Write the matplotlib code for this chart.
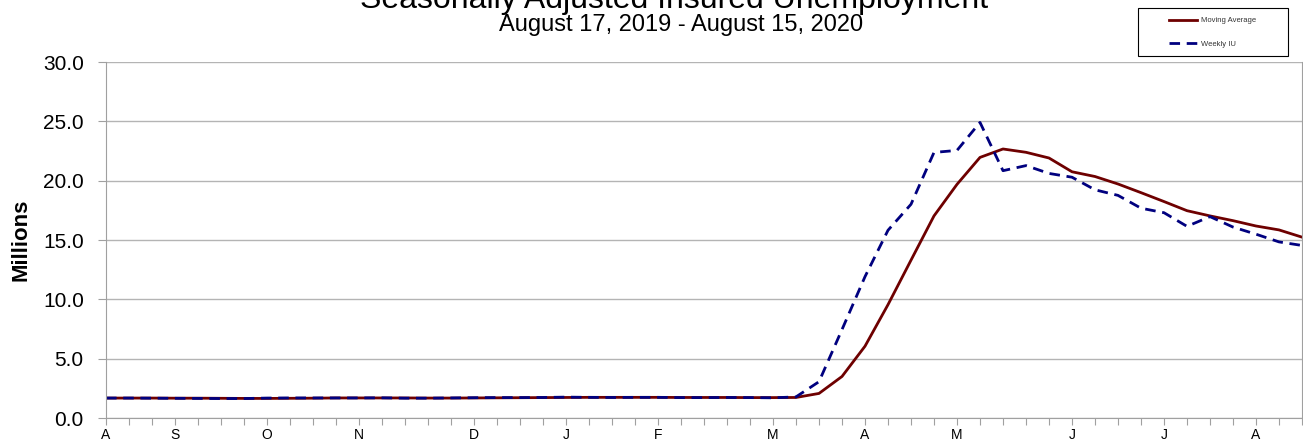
import matplotlib.pyplot as plt
from matplotlib.patches import Rectangle

plt.rcParams['font.family'] = ['Liberation Sans', 'DejaVu Sans']

# weekly values, Aug 17 2019 .. Aug 15 2020 (millions)
weekly_iu = [
    1.68, 1.68, 1.67, 1.66, 1.65, 1.64, 1.64, 1.68, 1.69, 1.69,
    1.69, 1.69, 1.70, 1.67, 1.67, 1.69, 1.71, 1.72, 1.72, 1.73,
    1.76, 1.74, 1.73, 1.74, 1.74, 1.72, 1.72, 1.73, 1.72, 1.70,
    1.78, 3.06, 7.45, 11.91, 15.82, 18.01, 22.38, 22.55, 24.91, 20.84,
    21.27, 20.61, 20.29, 19.23, 18.76, 17.68, 17.30, 16.15, 16.97, 16.09,
    15.49, 14.84, 14.54,
]
moving_avg = [
    1.68, 1.68, 1.68, 1.67, 1.67, 1.66, 1.65, 1.65, 1.66, 1.67,
    1.69, 1.69, 1.69, 1.69, 1.68, 1.68, 1.69, 1.70, 1.71, 1.72,
    1.73, 1.74, 1.74, 1.74, 1.74, 1.73, 1.73, 1.73, 1.72, 1.72,
    1.73, 2.07, 3.50, 6.05, 9.55, 13.30, 17.03, 19.69, 21.96, 22.67,
    22.39, 21.91, 20.75, 20.35, 19.72, 18.99, 18.24, 17.47, 17.03, 16.63,
    16.18, 15.85, 15.24,
]
month_pos = [0, 3, 7, 11, 16, 20, 24, 29, 33, 37, 42, 46, 50]
month_labels = ['A', 'S', 'O', 'N', 'D', 'J', 'F', 'M', 'A', 'M', 'J', 'J', 'A']

W, H = 1303, 447
fig = plt.figure(figsize=(W / 100, H / 100), dpi=100)
ax = fig.add_axes([106 / W, 1 - 418 / H, 1196 / W, 356 / H])

weeks = list(range(len(weekly_iu)))
ax.plot(weeks, moving_avg, color='#6e0000', lw=2.0, label='Moving Average')
ax.plot(weeks, weekly_iu, color='#00007f', lw=2.0, dashes=(3.8, 2.4),
        label='Weekly IU')

ax.set_xlim(0, len(weeks) - 1)
ax.set_ylim(0, 30)
ax.set_yticks([0, 5, 10, 15, 20, 25, 30])
ax.set_yticklabels([f'{v:.1f}' for v in range(0, 31, 5)], fontsize=15)
ax.grid(axis='y', color='#b4b4b4', lw=1.0)
ax.set_axisbelow(True)

labels = [''] * len(weeks)
for p, l in zip(month_pos, month_labels):
    labels[p] = l
ax.set_xticks(weeks)
ax.set_xticklabels(labels, fontsize=10)
ax.tick_params(axis='x', length=5, color='#a0a0a0', pad=2)
ax.tick_params(axis='y', length=6, color='#a0a0a0', pad=10)
for s in ax.spines.values():
    s.set_color('#a0a0a0')
ax.spines['top'].set_visible(False)

ax.set_ylabel('Millions', fontsize=16, fontweight='bold', labelpad=8)

# title is partly cut off at the top edge, as in the source image
fig.text(674 / W, 1 - 8 / H, 'Seasonally Adjusted Insured Unemployment',
         ha='center', va='baseline', fontsize=23)
fig.text(681 / W, 1 - 31 / H, 'August 17, 2019 - August 15, 2020',
         ha='center', va='baseline', fontsize=17)

# legend box
fig.add_artist(Rectangle((1138 / W, 1 - 56 / H), 150 / W, 48 / H,
                         transform=fig.transFigure, facecolor='white',
                         edgecolor='black', lw=0.8))
leg = fig.legend(loc='upper left', bbox_to_anchor=(1169 / W, 1 - 17 / H),
                 fontsize=5.5, frameon=False, handlelength=3.7,
                 handletextpad=0.45, labelspacing=2.1, borderpad=0,
                 borderaxespad=0)
for t in leg.get_texts():
    t.set_color('#333333')

fig.savefig('out.png', dpi=100)
